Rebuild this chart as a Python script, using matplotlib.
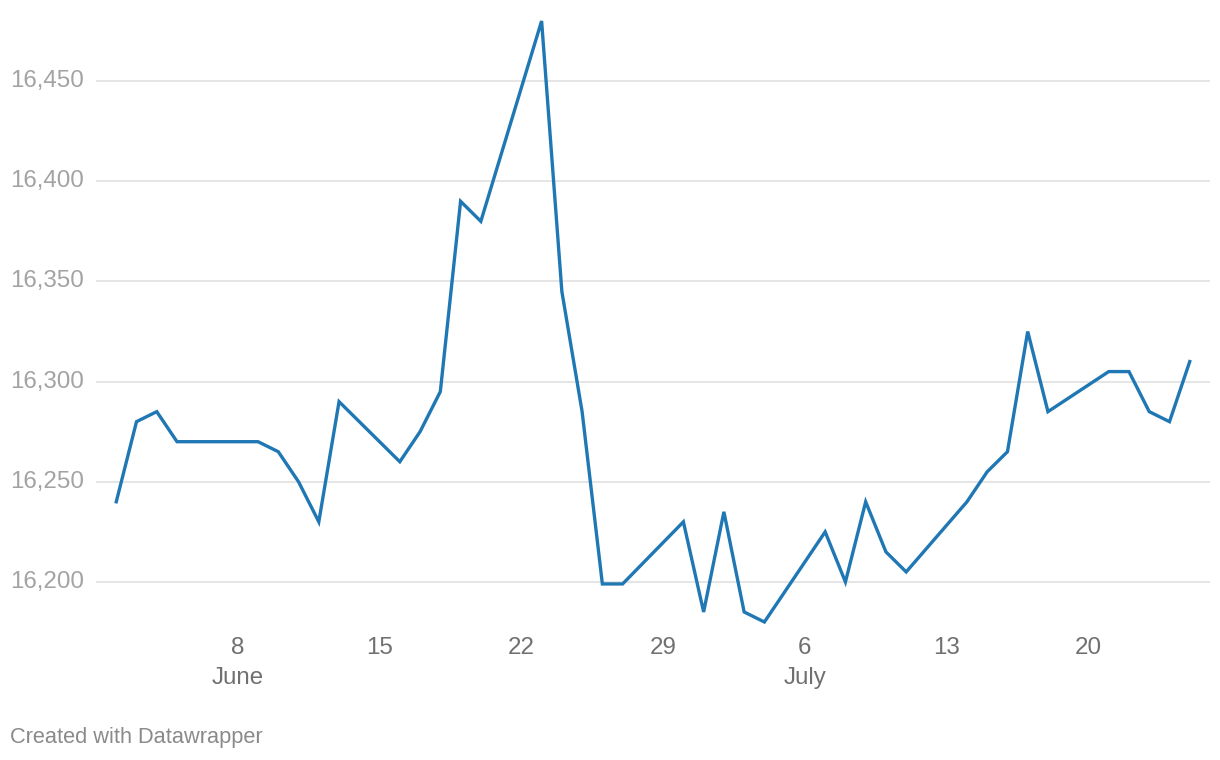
import matplotlib
matplotlib.use("Agg")
import matplotlib.pyplot as plt
import matplotlib.dates as mdates
import matplotlib.transforms as mtransforms
import datetime as dt

plt.rcParams["font.family"] = ["Liberation Sans", "DejaVu Sans"]

# ── data ─────────────────────────────────────────────────────────────────────
dates = [
    "2020-06-02", "2020-06-03", "2020-06-04", "2020-06-05", "2020-06-09",
    "2020-06-10", "2020-06-11", "2020-06-12", "2020-06-13", "2020-06-16",
    "2020-06-17", "2020-06-18", "2020-06-19", "2020-06-20", "2020-06-23",
    "2020-06-24", "2020-06-25", "2020-06-26", "2020-06-27", "2020-06-30",
    "2020-07-01", "2020-07-02", "2020-07-03", "2020-07-04", "2020-07-07",
    "2020-07-08", "2020-07-09", "2020-07-10", "2020-07-11", "2020-07-14",
    "2020-07-15", "2020-07-16", "2020-07-17", "2020-07-18", "2020-07-21",
    "2020-07-22", "2020-07-23", "2020-07-24", "2020-07-25",
]
values = [
    16240, 16280, 16285, 16270, 16270,
    16265, 16250, 16230, 16290, 16260,
    16275, 16295, 16390, 16380, 16480,
    16345, 16285, 16199, 16199, 16230,
    16185, 16235, 16185, 16180, 16225,
    16200, 16240, 16215, 16205, 16240,
    16255, 16265, 16325, 16285, 16305,
    16305, 16285, 16280, 16310,
]
y_ticks = [16200, 16250, 16300, 16350, 16400, 16450]
x_tick_dates = ["2020-06-08", "2020-06-15", "2020-06-22", "2020-06-29",
                "2020-07-06", "2020-07-13", "2020-07-20"]
month_labels = [("2020-06-08", "June"), ("2020-07-06", "July")]

x = [dt.datetime.strptime(d, "%Y-%m-%d") for d in dates]

fig = plt.figure(figsize=(12.2, 7.6), dpi=100)
ax = fig.add_axes([96 / 1220, 1 - 622 / 760, (1210 - 96) / 1220, (622 - 21) / 760])

for yt in y_ticks:
    ax.axhline(yt, color="#e3e3e3", lw=1.3, zorder=1)

ax.plot(x, values, color="#1f77b4", lw=2.4, solid_joinstyle="miter",
        clip_on=False, zorder=3)

ax.set_xlim(dt.datetime(2020, 6, 1), dt.datetime(2020, 7, 26))
ax.set_ylim(16180, 16480)
ax.set_xticks([])
ax.set_yticks([])
for s in ax.spines.values():
    s.set_visible(False)

# y labels sit at the left edge of the figure, level with their gridline
ytrans = mtransforms.blended_transform_factory(fig.transFigure, ax.transData)
for yt in y_ticks:
    ax.text(10 / 1220, yt, f"{yt:,}", transform=ytrans, ha="left", va="center",
            fontsize=17.4, color="#a3a3a3")

xtrans = mtransforms.blended_transform_factory(ax.transData, fig.transFigure)
for d in x_tick_dates:
    xd = mdates.date2num(dt.datetime.strptime(d, "%Y-%m-%d"))
    ax.text(xd, 1 - 648 / 760, str(int(d[-2:])), transform=xtrans,
            ha="center", va="center", fontsize=17.4, color="#707070")
for d, lab in month_labels:
    xd = mdates.date2num(dt.datetime.strptime(d, "%Y-%m-%d"))
    ax.text(xd, 1 - 678 / 760, lab, transform=xtrans,
            ha="center", va="center", fontsize=17.4, color="#707070")

fig.text(10 / 1220, 1 - 737 / 760, "Created with Datawrapper", ha="left",
         va="center", fontsize=15.7, color="#8a8a8a")

fig.savefig("out.png", dpi=100)
